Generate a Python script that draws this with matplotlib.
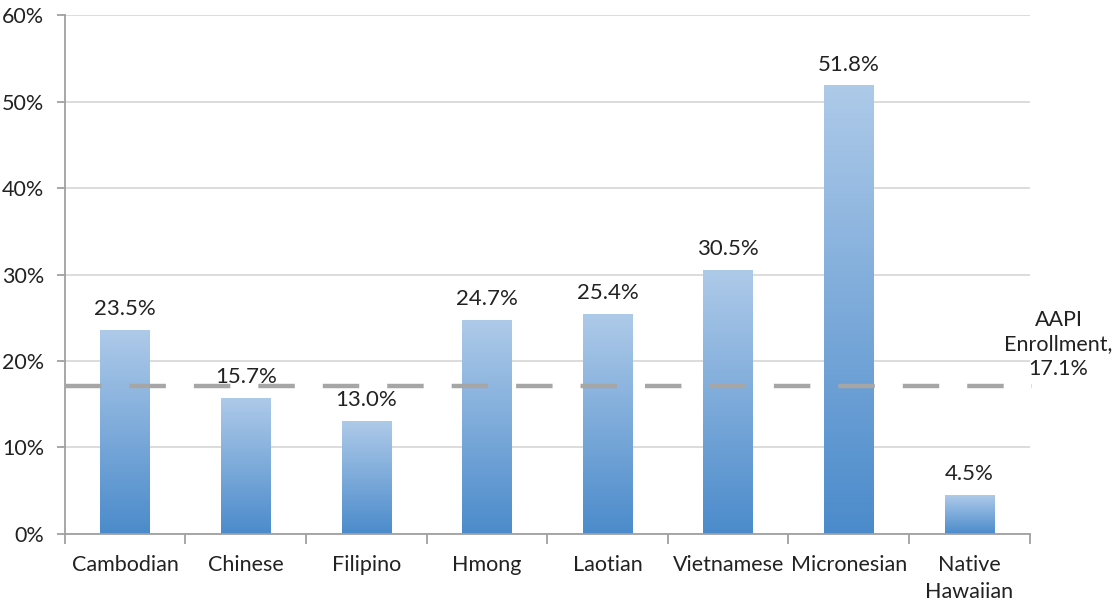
import numpy as np
import matplotlib
matplotlib.use("Agg")
import matplotlib.pyplot as plt
from matplotlib.colors import LinearSegmentedColormap

categories = ["Cambodian", "Chinese", "Filipino", "Hmong", "Laotian",
              "Vietnamese", "Micronesian", "Native\nHawaiian"]
values = [23.5, 15.7, 13.0, 24.7, 25.4, 30.5, 51.8, 4.5]
value_labels = ["23.5%", "15.7%", "13.0%", "24.7%", "25.4%", "30.5%", "51.8%", "4.5%"]
aapi_value = 17.1
aapi_label = "AAPI\nEnrollment,\n17.1%"
yticks = [0, 10, 20, 30, 40, 50, 60]
ytick_labels = ["0%", "10%", "20%", "30%", "40%", "50%", "60%"]

plt.rcParams['font.family'] = ['Lato', 'DejaVu Sans']

fig = plt.figure(figsize=(11.18, 6.02), dpi=100)
ax = fig.add_axes([0.058, 0.113, 0.863, 0.862])

n = len(categories)

cmap = LinearSegmentedColormap.from_list("g", ["#4b8bcb", "#aecae9"])
grad = np.linspace(0, 1, 256).reshape(-1, 1)
bw = 0.41
for i, v in enumerate(values):
    xc = i + 0.5
    ax.imshow(grad, cmap=cmap, origin="lower", aspect="auto",
              extent=(xc - bw / 2, xc + bw / 2, 0, v), zorder=2)
    ax.text(xc, v + 1.3, value_labels[i], ha="center", va="bottom",
            fontsize=16, color="#222222", zorder=4)

ax.set_xlim(0, n)
ax.set_ylim(0, 60)

ax.set_yticks(yticks)
ax.set_yticklabels(ytick_labels, fontsize=15.5, color="#222222")
ax.yaxis.grid(True, color="#d9d9d9", linewidth=1.3, zorder=0)
ax.set_axisbelow(True)

ax.set_xticks(np.arange(n) + 0.5)
ax.set_xticklabels(categories, fontsize=15.5, color="#222222", linespacing=1.45)
ax.tick_params(axis="x", length=0, pad=15)
ax.set_xticks(np.arange(n + 1), minor=True)
ax.tick_params(axis="x", which="minor", length=7, width=1.3, color="#a0a0a0", direction="out")
ax.tick_params(axis="y", length=6, width=1.3, color="#a0a0a0", direction="out", pad=9)

for s in ["top", "right"]:
    ax.spines[s].set_visible(False)
for s in ["left", "bottom"]:
    ax.spines[s].set_color("#a0a0a0")
    ax.spines[s].set_linewidth(1.3)

ax.plot([0, n + 0.02], [aapi_value, aapi_value], color="#a6a6a6", linewidth=3.2,
        dashes=(8.2, 6.3), clip_on=False, zorder=3, solid_capstyle="butt",
        dash_capstyle="butt")
ax.text(n + 0.24, aapi_value + 0.8, aapi_label, ha="center", va="bottom",
        fontsize=15.5, color="#222222", linespacing=1.3)

fig.savefig("out.png", dpi=100)
